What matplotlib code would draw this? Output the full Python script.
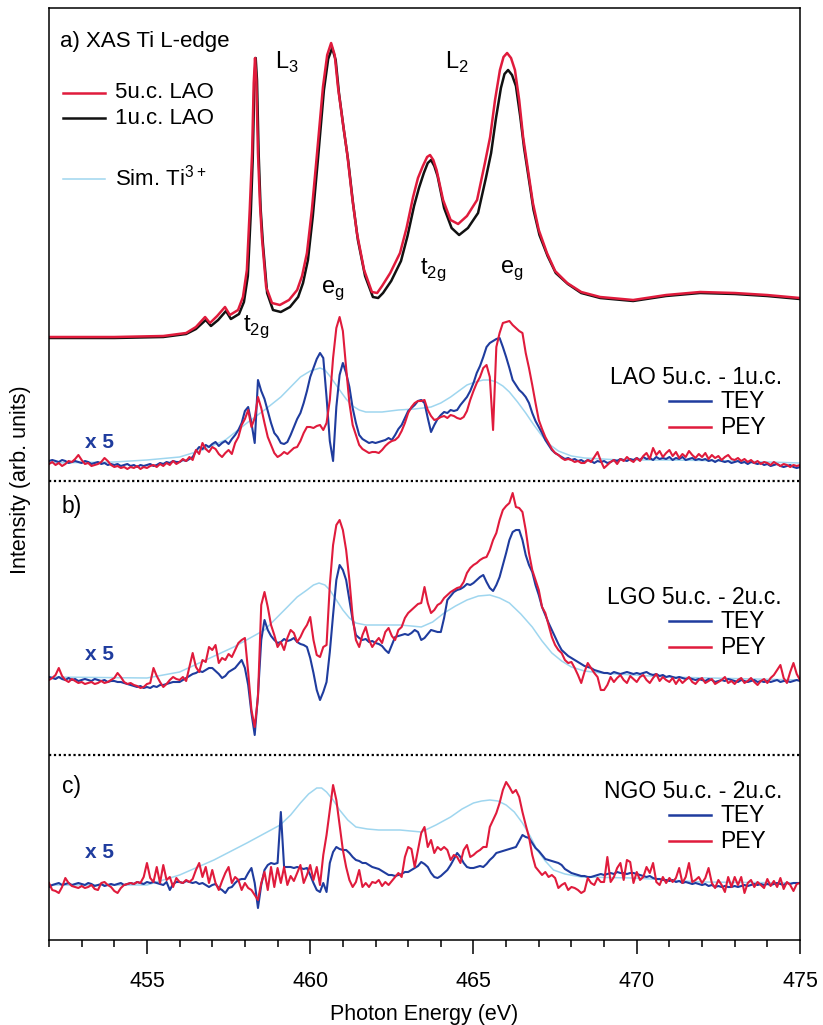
import numpy as np
import matplotlib
matplotlib.use("Agg")
import matplotlib.pyplot as plt
from matplotlib.ticker import MultipleLocator

plt.rcParams['font.family'] = ['Liberation Sans', 'DejaVu Sans']

RED = '#e01b3c'
BLUE = '#1f3c9e'
SIM = '#9fd6ef'

# ---- a) XAS Ti L-edge, 5u.c. and 1u.c. LAO (relative to pre-edge) ----
e_5uc = [452.0, 454.0, 455.5, 456.2, 456.5, 456.78, 456.93, 457.15, 457.39, 457.54,
         457.79, 457.94, 458.06, 458.15, 458.22, 458.27, 458.31, 458.35, 458.4, 458.46,
         458.52, 458.65, 458.83, 459.07, 459.35, 459.6, 459.75, 459.9, 460.05, 460.21,
         460.39, 460.52, 460.64, 460.75, 460.85, 461.0, 461.13, 461.28, 461.43, 461.65,
         461.89, 462.05, 462.2, 462.45, 462.75, 462.95, 463.15, 463.3, 463.45, 463.58,
         463.67, 463.77, 463.87, 464.07, 464.3, 464.53, 464.8, 465.11, 465.35, 465.51,
         465.66, 465.81, 465.92, 466.03, 466.15, 466.27, 466.4, 466.52, 466.67, 466.82,
         467.0, 467.25, 467.5, 467.87, 468.3, 468.88, 469.89, 470.9, 471.94, 473.0,
         473.99, 475.0]
xas_5uc = [1, 1, 2, 5, 11, 21, 15, 22, 31, 23,
           28, 41, 68, 130, 185, 255, 280, 258, 185, 135,
           101, 51, 35, 33, 38, 48, 62, 85, 128, 185,
           251, 283, 295, 283, 251, 215, 185, 142, 105, 68,
           46, 45, 52, 65, 85, 110, 141, 160, 172, 181,
           183, 178, 168, 138, 118, 114, 122, 138, 175, 201,
           238, 268, 281, 285, 280, 268, 238, 201, 168, 135,
           108, 85, 67, 55, 46, 41, 38, 43, 46, 45,
           43, 40]

e_1uc = [452.0, 454.0, 455.5, 456.2, 456.5, 456.8, 456.96, 457.18, 457.42, 457.57,
         457.82, 457.97, 458.09, 458.18, 458.24, 458.29, 458.33, 458.37, 458.42, 458.48,
         458.55, 458.68, 458.86, 459.1, 459.38, 459.63, 459.78, 459.93, 460.08, 460.24,
         460.42, 460.55, 460.67, 460.78, 460.88, 461.03, 461.16, 461.31, 461.46, 461.68,
         461.92, 462.08, 462.23, 462.48, 462.78, 462.98, 463.18, 463.33, 463.48, 463.6,
         463.7, 463.8, 463.9, 464.1, 464.33, 464.56, 464.83, 465.14, 465.38, 465.54,
         465.69, 465.84, 465.95, 466.06, 466.18, 466.3, 466.43, 466.55, 466.7, 466.84,
         467.02, 467.27, 467.52, 467.89, 468.3, 468.88, 469.89, 470.9, 471.94, 473.0,
         473.99, 475.0]
xas_1uc = [0, 0, 1, 4, 9, 18, 12, 18, 27, 19,
           24, 36, 62, 125, 180, 255, 280, 258, 185, 130,
           95, 45, 28, 26, 31, 41, 55, 78, 122, 180,
           248, 279, 290, 278, 245, 208, 178, 135, 98, 62,
           41, 40, 45, 57, 77, 102, 132, 150, 165, 175,
           178, 172, 162, 130, 110, 103, 110, 125, 160, 185,
           220, 250, 264, 268, 263, 252, 222, 190, 158, 128,
           103, 82, 65, 54, 45, 40, 37, 42, 45, 44,
           42, 39]

# ---- simulated Ti3+ difference (one per panel) ----
e_sim_a = [452, 454, 455, 456, 456.7, 457.4, 458.1, 458.6, 459.1, 459.4, 459.7, 460.0,
           460.3, 460.45, 460.6, 460.75, 460.9, 461.1, 461.3, 461.5, 461.7, 462.2, 462.7,
           463.2, 463.7, 464.0, 464.3, 464.55, 464.8, 465.05, 465.3, 465.5, 465.7, 465.9,
           466.1, 466.35, 466.6, 466.85, 467.1, 467.35, 467.6, 468.0, 468.4, 469.5, 471,
           473, 475]
sim_a = [0, 1, 3, 6, 13, 23, 41, 53, 66, 76, 86, 92,
         95, 93, 87, 80, 73, 64, 57, 53, 51, 51, 53,
         54, 56, 60, 66, 72, 78, 81, 83, 83, 81, 77,
         71, 61, 50, 38, 27, 18, 12, 7, 5, 3, 3,
         2, 0]

e_sim_b = [452, 455, 456, 456.8, 457.66, 458.6, 459.3, 459.6, 459.9, 460.1, 460.27,
           460.45, 460.6, 460.8, 461.0, 461.2, 461.4, 461.7, 462.1, 462.75, 463.1, 463.4,
           463.75, 464.1, 464.45, 464.8, 465.15, 465.5, 465.8, 466.1, 466.45, 466.8,
           467.1, 467.4, 467.7, 468.0, 468.4, 468.9, 470.9, 475]
sim_b = [3, 2, 8, 20, 33, 50, 73, 83, 90, 95, 97,
         95, 90, 80, 70, 62, 57, 55, 55, 55, 54, 53,
         58, 67, 74, 80, 84, 85, 82, 77, 66, 53,
         39, 27, 19, 13, 9, 7, 3, 0]

e_sim_c = [452, 455, 456, 457.05, 458.06, 459.08, 459.4, 459.7, 459.95, 460.2, 460.35,
           460.5, 460.7, 460.9, 461.15, 461.4, 461.75, 462.1, 462.75, 463.4, 463.85,
           464.3, 464.65, 465.0, 465.25, 465.5, 465.75, 466.0, 466.25, 466.5, 466.75,
           466.95, 467.2, 467.45, 467.8, 468.3, 469.9, 472, 475]
sim_c = [0, 0, 10, 25, 42, 60, 70, 82, 91, 97, 97,
         93, 85, 75, 65, 58, 56, 55, 55, 53, 60,
         68, 76, 82, 84, 85, 84, 80, 73, 62, 48,
         35, 24, 15, 11, 8, 7, 3, 2]

# ---- measured difference spectra (x5), 0.1 eV steps from 452 to 475 eV ----
energy = np.round(np.linspace(452, 475, 231), 1)

tey_a = [2, 3, 2, 1, 3, 2, 0, 1, 2, 1,            # 452
         0, 2, 1, -1, 0, 1, -1, 0, -2, -1,        # 453
         -2, -1, -3, -2, -1, -3, -2, -4, -2, -3,  # 454
         -2, -1, -3, -2, 0, -1, 1, 0, 2, 1,       # 455
         1, 3, 2, 4, 6, 12, 16, 14, 18, 16,       # 456
         19, 21, 17, 20, 22, 19, 24, 28, 33, 40,  # 457
         52, 56, 40, 20, 83, 72, 64, 52, 40, 30,  # 458
         26, 20, 19, 21, 28, 36, 44, 50, 60, 72,  # 459
         86, 95, 104, 110, 105, 66, 22, 2, 56, 88,  # 460
         100, 90, 76, 55, 40, 28, 24, 22, 20, 21,   # 461
         20, 21, 22, 23, 25, 23, 28, 34, 38, 45,    # 462
         52, 55, 58, 62, 63, 60, 45, 31, 38, 44,    # 463
         48, 51, 50, 53, 52, 53, 58, 62, 66, 72,    # 464
         80, 90, 97, 106, 116, 120, 122, 124, 125, 116,  # 465
         106, 95, 83, 78, 73, 70, 66, 60, 50, 42,   # 466
         36, 30, 23, 18, 13, 10, 8, 6, 4, 5,        # 467
         3, 4, 2, 3, 1, 3, 2, 0, 2, 1,              # 468
         2, 0, 1, 3, 2, 4, 3, 2, 4, 3,              # 469
         5, 3, 6, 4, 5, 3, 6, 4, 5, 4,              # 470
         6, 3, 5, 4, 6, 3, 4, 5, 3, 4,              # 471
         3, 4, 2, 3, 1, 3, 2, 1, 2, 0,              # 472
         1, 2, 0, 1, -1, 1, 0, -1, 0, -2,           # 473
         -1, -3, -2, -1, -3, -4, -3, -2, -4, -5,    # 474
         -4]

pey_a = [-1, 1, -2, 0, -3, -1, 2, 1, 4, 8,        # 452
         3, -1, 0, -3, -2, -1, 1, 5, 2, -2,       # 453
         -4, -3, -5, -4, -6, -4, -5, -3, -6, -4,  # 454
         -5, -3, -2, -4, -1, -3, 0, -2, 2, -1,    # 455
         1, 4, 2, 6, 3, 13, 9, 20, 14, 11,        # 456
         16, 14, 9, 6, 10, 13, 9, 20, 26, 38,     # 457
         44, 53, 36, 45, 66, 55, 40, 26, 18, 10,  # 458
         6, 8, 11, 9, 12, 15, 16, 22, 30, 36,     # 459
         36, 35, 37, 38, 33, 40, 63, 105, 135, 146,  # 460
         132, 95, 60, 38, 28, 18, 14, 12, 10, 11,    # 461
         11, 10, 13, 17, 20, 22, 23, 26, 32, 40,     # 462
         50, 56, 60, 62, 62, 63, 53, 47, 43, 44,     # 463
         46, 47, 45, 48, 47, 45, 44, 46, 52, 63,     # 464
         72, 80, 86, 95, 98, 86, 33, 116, 130, 140,  # 465
         141, 142, 138, 135, 132, 130, 110, 95, 78, 60,  # 466
         43, 34, 26, 20, 14, 10, 8, 5, 3, 4,         # 467
         3, 1, 2, 0, 0, 3, 1, 6, 11, 2,              # 468
         -5, -2, 1, 3, -1, 4, 2, 6, 3, 1,            # 469
         5, 2, 7, 10, 4, 15, 8, 12, 6, 10,           # 470
         13, 7, 11, 5, 9, 6, 12, 8, 5, 9,            # 471
         6, 10, 4, 8, 5, 7, 3, 6, 8, 4,              # 472
         3, 5, 2, 4, 1, 3, 0, 2, -1, 1,              # 473
         0, -2, 1, -1, -3, -1, -2, -4, -2, -3,       # 474
         -2]

tey_b = [3, 2, 1, 3, 1, 0, 2, 0, 1, -1,           # 452
         0, 1, 0, -1, 1, 0, -1, 0, -2, -1,        # 453
         -1, -2, -2, -3, -4, -5, -6, -7, -6, -8,  # 454
         -7, -8, -6, -7, -5, -5, -4, -3, -2, -2,  # 455
         -2, 0, 2, 4, 6, 7, 9, 8, 10, 12,         # 456
         12, 9, 6, 2, 4, 8, 10, 12, 16, 20,       # 457
         12, -5, -33, -55, -15, 40, 60, 50, 44, 40,  # 458
         37, 38, 41, 39, 40, 42, 38, 36, 35, 33,     # 459
         22, 7, -10, -20, -12, -2, 28, 65, 100, 115,  # 460
         110, 100, 80, 60, 45, 42, 40, 41, 38, 39,   # 461
         37, 36, 34, 30, 27, 35, 43, 44, 45, 46,     # 462
         45, 47, 50, 48, 40, 42, 46, 50, 49, 48,     # 463
         48, 62, 80, 84, 88, 90, 91, 93, 96, 95,     # 464
         97, 100, 103, 105, 98, 92, 89, 95, 103, 115,  # 465
         127, 140, 148, 150, 150, 140, 125, 115, 108, 95,  # 466
         85, 73, 65, 57, 50, 43, 36, 30, 27, 24,     # 467
         22, 20, 18, 16, 14, 13, 12, 10, 9, 8,       # 468
         7, 7, 6, 8, 7, 6, 7, 8, 7, 6,               # 469
         7, 6, 7, 8, 6, 5, 6, 4, 5, 3,               # 470
         4, 3, 2, 3, 2, 1, 2, 1, 0, 1,               # 471
         0, -1, 1, 0, -2, -1, 0, -1, 1, 0,           # 472
         -1, -2, 0, -1, -2, -1, 0, -2, -1, -2,       # 473
         -1, -2, -1, 0, -2, -1, -1, -2, -1, 0,       # 474
         -1]

pey_b = [0, 2, 5, 12, 4, 0, -2, 1, -1, -3,        # 452
         -2, -4, -3, -2, -4, -3, -1, -3, -2, 0,   # 453
         2, 7, 3, -2, -4, -3, -5, -6, -8, -7,     # 454
         -4, -3, 12, 4, -2, -7, -4, 0, 3, 1,      # 455
         0, 3, -1, 13, 27, 13, 8, 20, 18, 33,     # 456
         30, 35, 17, 22, 20, 26, 23, 30, 37, 40,  # 457
         42, 8, -30, -47, -17, 75, 88, 73, 55, 45,  # 458
         33, 38, 30, 42, 50, 47, 38, 43, 50, 55,    # 459
         63, 40, 25, 23, 33, 35, 95, 135, 155, 160,  # 460
         150, 130, 100, 63, 40, 33, 45, 53, 40, 33,  # 461
         38, 42, 37, 48, 52, 44, 40, 50, 53, 62,     # 462
         67, 70, 73, 76, 77, 93, 77, 67, 70, 75,     # 463
         77, 82, 85, 88, 90, 92, 93, 98, 107, 112,   # 464
         115, 117, 120, 122, 123, 130, 140, 147, 160, 170,  # 465
         174, 177, 187, 173, 172, 168, 150, 127, 110, 100,  # 466
         90, 73, 67, 55, 43, 35, 30, 27, 20, 17,     # 467
         18, 12, 5, -3, 8, 17, 12, 7, 3, -10,        # 468
         -10, -5, 3, -2, 2, 5, 0, -3, 4, 1,          # 469
         -2, 3, 5, 0, -3, 2, 6, -1, 3, 0,            # 470
         -2, 2, -4, 1, -3, 0, 3, -2, -4, 0,          # 471
         2, -3, -1, 1, -4, -2, 0, 3, -3, -1,         # 472
         -4, 0, 2, -3, -1, 2, -2, -5, -1, 1,         # 473
         -3, 2, 5, 10, 15, 2, -3, 8, 17, 6,          # 474
         0]

tey_c = [-2, 0, 1, 2, 0, 1, 2, 0, 1, 2,           # 452
         1, 0, 2, 1, -1, 0, 1, -1, 0, 1,          # 453
         0, 1, 2, 0, 1, 2, 1, 3, 2, 1,            # 454
         3, 2, 3, 2, 1, 0, 3, -5, 1, 3,           # 455
         3, 2, 4, 3, 2, 3, 1, 2, 0, -2,           # 456
         0, 1, -3, -5, -8, -3, -2, 2, 5, 6,       # 457
         6, 12, 17, 2, -23, 0, 15, 20, 22, 21,    # 458
         22, 73, 18, 18, 18, 17, 18, 17, 16, 17,  # 459
         10, 2, -5, -7, 2, -7, 22, 33, 38, 36,    # 460
         35, 35, 32, 28, 25, 24, 22, 22, 20, 18,  # 461
         17, 16, 14, 12, 10, 10, 9, 10, 11, 13,   # 462
         13, 15, 17, 19, 23, 21, 18, 12, 8, 7,    # 463
         9, 12, 15, 20, 26, 32, 28, 22, 18, 17,   # 464
         17, 18, 19, 18, 21, 25, 28, 32, 33, 34,  # 465
         35, 36, 37, 38, 44, 50, 48, 47, 42, 37,  # 466
         34, 30, 26, 25, 24, 23, 22, 20, 16, 14,  # 467
         12, 11, 10, 9, 9, 8, 8, 9, 10, 11,       # 468
         10, 11, 12, 11, 13, 12, 12, 11, 12, 12,  # 469
         11, 10, 9, 8, 9, 7, 6, 6, 5, 5,          # 470
         4, 5, 3, 4, 2, 3, 2, 1, 2, 1,            # 471
         0, 1, -1, 0, -2, -1, -2, -1, -2, -2,     # 472
         -1, -2, -1, 0, -1, 0, 1, 0, 1, 0,        # 473
         1, 0, 1, 2, 1, 0, 2, 1, 2, 2,            # 474
         2]

pey_c = [2, -5, -6, -8, -2, 7, 2, -1, -2, -3,     # 452
         -1, -3, -2, 0, -4, -5, 2, 3, 0, -2,      # 453
         -6, -8, -3, 0, 1, 2, 1, 3, 2, 8,         # 454
         22, 7, 3, 18, 2, 20, 5, 8, -2, 7,        # 455
         3, 2, 5, 3, 6, 15, 22, 8, 18, 2,         # 456
         15, 2, -5, 4, 12, 18, 2, 8, 5, -5,       # 457
         2, -3, -5, -10, -15, 2, 13, -5, 18, -2,  # 458
         17, 2, 18, 0, 9, 4, 12, 20, 2, 10,       # 459
         20, 5, 18, 0, 30, 50, 75, 100, 85, 60,   # 460
         35, 18, 5, -2, 3, 15, -2, 2, -2, 3,      # 461
         2, 5, -1, 3, 0, 4, 8, 12, 8, 28,         # 462
         38, 36, 18, 35, 52, 58, 38, 45, 32, 38,  # 463
         35, 38, 35, 25, 30, 28, 22, 35, 40, 28,  # 464
         30, 33, 35, 38, 38, 58, 65, 72, 82, 95,  # 465
         103, 98, 92, 95, 88, 73, 60, 48, 30, 18,  # 466
         14, 10, 13, 8, 10, 7, -3, 0, 2, -5,      # 467
         -2, -3, -5, -8, -6, 7, 2, 0, 7, 3,       # 468
         3, 28, 3, 8, 17, 22, 5, 25, 23, 2,       # 469
         13, 5, 8, 18, 12, 22, 3, 0, 8, 2,        # 470
         7, 3, 7, 17, 2, 8, 22, 3, 5, 8,          # 471
         2, 7, 17, 2, -3, 5, 0, -7, 8, -2,        # 472
         8, 0, 8, -8, 2, 5, -2, 3, 0, -3,         # 473
         6, -1, 4, -2, 7, -4, 3, 0, -6, 1,        # 474
         2]

# vertical offsets of the stacked spectra
off_xas, off_a, off_b, off_c = 602, 477, 260, 55

fig = plt.figure(figsize=(8.23, 10.25), dpi=100)
ax = fig.add_axes([49 / 823, 85 / 1025, 751 / 823, 932 / 1025])

# top XAS
ax.plot(e_1uc, np.array(xas_1uc) + off_xas, color='#111111', lw=1.8)
ax.plot(e_5uc, np.array(xas_5uc) + off_xas, color=RED, lw=1.8)

# difference spectra
for e_s, s, tey, pey, off in [(e_sim_a, sim_a, tey_a, pey_a, off_a),
                              (e_sim_b, sim_b, tey_b, pey_b, off_b),
                              (e_sim_c, sim_c, tey_c, pey_c, off_c)]:
    ax.plot(e_s, np.array(s) + off, color=SIM, lw=1.1)
    ax.plot(energy, np.array(tey) + off, color=BLUE, lw=1.5)
    ax.plot(energy, np.array(pey) + off, color=RED, lw=1.5)

# dotted separators
for yy in (459, 185):
    ax.axhline(yy, color='k', lw=1.6, ls=(0, (1, 1.2)))

ax.set_xlim(452, 475)
ax.set_ylim(0, 932)
ax.set_yticks([])
ax.set_xticks(range(455, 476, 5))
ax.xaxis.set_minor_locator(MultipleLocator(1))
ax.tick_params(axis='x', which='major', direction='out', length=10, width=1.1,
               labelsize=15.5, pad=12)
ax.tick_params(axis='x', which='minor', direction='out', length=5, width=1.1)
for sp in ax.spines.values():
    sp.set_linewidth(1.1)
ax.set_xlabel('Photon Energy (eV)', fontsize=15.5, labelpad=9)
fig.text(21 / 823, 1 - 480 / 1025, 'Intensity (arb. units)', rotation=90,
         ha='center', va='center', fontsize=15.5)

# panel a annotations
ax.text(452.34, 898, 'a) XAS Ti L-edge', fontsize=16, va='center')
ax.text(458.92, 878, r'L$_{\mathregular{3}}$', fontsize=17, va='center')
ax.text(464.13, 878, r'L$_{\mathregular{2}}$', fontsize=17, va='center')
ax.text(460.7, 650, r'e$_{\mathregular{g}}$', fontsize=17, ha='center', va='center')
ax.text(458.34, 613, r't$_{\mathregular{2g}}$', fontsize=17, ha='center', va='center')
ax.text(463.76, 670, r't$_{\mathregular{2g}}$', fontsize=17, ha='center', va='center')
ax.text(466.18, 670, r'e$_{\mathregular{g}}$', fontsize=17, ha='center', va='center')

ax.plot([452.43, 453.72], [847, 847], color=RED, lw=1.8)
ax.plot([452.43, 453.72], [822, 822], color='#111111', lw=1.8)
ax.plot([452.43, 453.72], [761, 761], color=SIM, lw=1.1)
ax.text(454.02, 847, '5u.c. LAO', fontsize=16, va='center')
ax.text(454.02, 822, '1u.c. LAO', fontsize=16, va='center')
ax.text(454.02, 762, r'Sim. Ti$^{\mathregular{3+}}$', fontsize=16, va='center')

# difference-panel labels
for name, y0, ylab in [('LAO 5u.c. - 1u.c.', 562, 497),
                       ('LGO 5u.c. - 2u.c.', 342, 285),
                       ('NGO 5u.c. - 2u.c.', 148, 88)]:
    ax.text(474.45, y0, name, fontsize=16.5, ha='right', va='center')
    ax.plot([470.99, 472.28], [y0 - 23, y0 - 23], color=BLUE, lw=1.8)
    ax.plot([470.99, 472.28], [y0 - 49, y0 - 49], color=RED, lw=1.8)
    ax.text(472.55, y0 - 23, 'TEY', fontsize=16.5, va='center')
    ax.text(472.55, y0 - 49, 'PEY', fontsize=16.5, va='center')
    ax.text(453.1, ylab, 'x 5', fontsize=15, color=BLUE, fontweight='bold',
            va='center')

ax.text(452.4, 433, 'b)', fontsize=16.5, va='center')
ax.text(452.4, 153, 'c)', fontsize=16.5, va='center')

fig.savefig('out.png', dpi=100)
